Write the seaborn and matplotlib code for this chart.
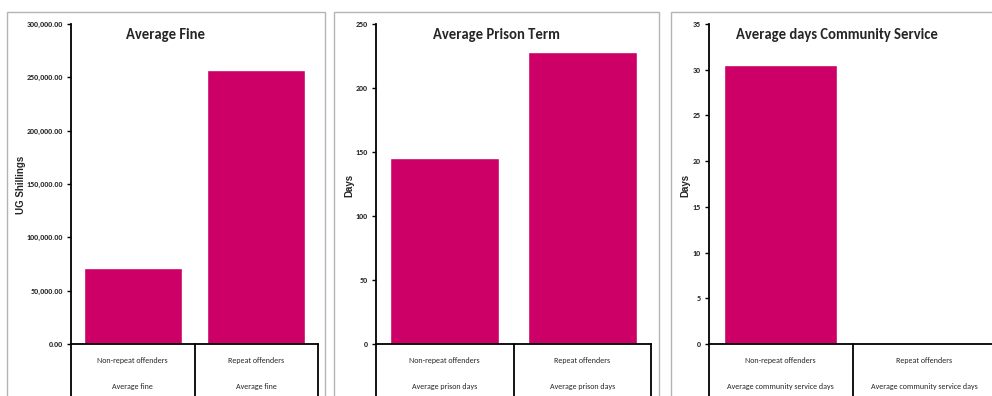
import matplotlib
matplotlib.use("Agg")
import matplotlib.pyplot as plt
import matplotlib.transforms as mtransforms
from matplotlib.patches import Rectangle
from matplotlib.ticker import FuncFormatter
import seaborn as sns

# data
categories = ["Non-repeat offenders", "Repeat offenders"]
fine_values = [71500, 257000]
prison_values = [145, 228]
community_values = [30.5, 0]
fine_sub = ["Average fine", "Average fine"]
prison_sub = ["Average prison days", "Average prison days"]
community_sub = ["Average community service days", "Average community service days"]

sns.set_style("white")
plt.rcParams["font.family"] = ["Carlito", "Liberation Sans", "DejaVu Sans"]

W, H = 992, 396
fig = plt.figure(figsize=(W / 100, H / 100), dpi=100)
bar_color = "#CC0066"


def fx(px):
    return px / W


def fy(py):
    return 1 - py / H


# light grey frames round each panel
for left, right in [(7, 325), (334, 659), (671, 1010)]:
    fig.patches.append(Rectangle((fx(left), fy(400)), fx(right - left), fy(12) - fy(400),
                                 transform=fig.transFigure, fill=False,
                                 edgecolor="#b4b4b4", linewidth=1.0))

panels = [
    dict(left=71, right=318, vals=fine_values, sub=fine_sub, title="Average Fine",
         tcx=166, ylabel="UG Shillings", ylx=21, ymax=300000, step=50000,
         fmt=lambda v, p: f"{v:,.2f}"),
    dict(left=376, right=651, vals=prison_values, sub=prison_sub, title="Average Prison Term",
         tcx=496, ylabel="Days", ylx=349, ymax=250, step=50,
         fmt=lambda v, p: f"{v:.0f}"),
    dict(left=709, right=996, vals=community_values, sub=community_sub,
         title="Average days Community Service",
         tcx=837, ylabel="Days", ylx=685, ymax=35, step=5,
         fmt=lambda v, p: f"{v:.0f}"),
]

top_px, bot_px = 24, 344
for p in panels:
    ax = fig.add_axes([fx(p["left"]), fy(bot_px), fx(p["right"] - p["left"]), fy(top_px) - fy(bot_px)])
    sns.barplot(x=categories, y=p["vals"], color=bar_color, width=0.79, saturation=1, ax=ax)
    ax.set_xlim(-0.5, 1.5)
    ax.set_ylim(0, p["ymax"])
    ax.set_yticks(range(0, p["ymax"] + 1, p["step"]))
    ax.yaxis.set_major_formatter(FuncFormatter(p["fmt"]))
    ax.set_xticks([])
    ax.set_xlabel("")
    ax.set_ylabel("")
    ax.tick_params(axis="y", left=True, length=3, width=1, pad=3, labelsize=5.8, color="black")
    for lbl in ax.get_yticklabels():
        lbl.set_fontweight("bold")
    for side in ["top", "right"]:
        ax.spines[side].set_visible(False)
    for side in ["left", "bottom"]:
        ax.spines[side].set_color("black")
        ax.spines[side].set_linewidth(1.3)

    # category table under the axis
    trans = mtransforms.blended_transform_factory(ax.transData, ax.transAxes)
    depth = -(H - bot_px + 5) / (bot_px - top_px)
    for xv in [-0.5, 0.5, 1.5]:
        ax.plot([xv, xv], [0, depth], transform=trans, color="black", lw=1.3, clip_on=False)
    for i, cat in enumerate(categories):
        ax.text(i, -17 / 320, cat, transform=trans, ha="center", va="center", fontsize=5.8)
        ax.text(i, -43 / 320, p["sub"][i], transform=trans, ha="center", va="center", fontsize=5.8)

    fig.text(fx(p["tcx"]), fy(35), p["title"], ha="center", va="center", fontsize=10.5,
             fontweight="bold")
    fig.text(fx(p["ylx"]), fy(185), p["ylabel"], rotation=90, ha="center", va="center",
             fontsize=7, fontweight="bold", family=["Liberation Sans", "DejaVu Sans"])

fig.savefig("out.png", dpi=100)
